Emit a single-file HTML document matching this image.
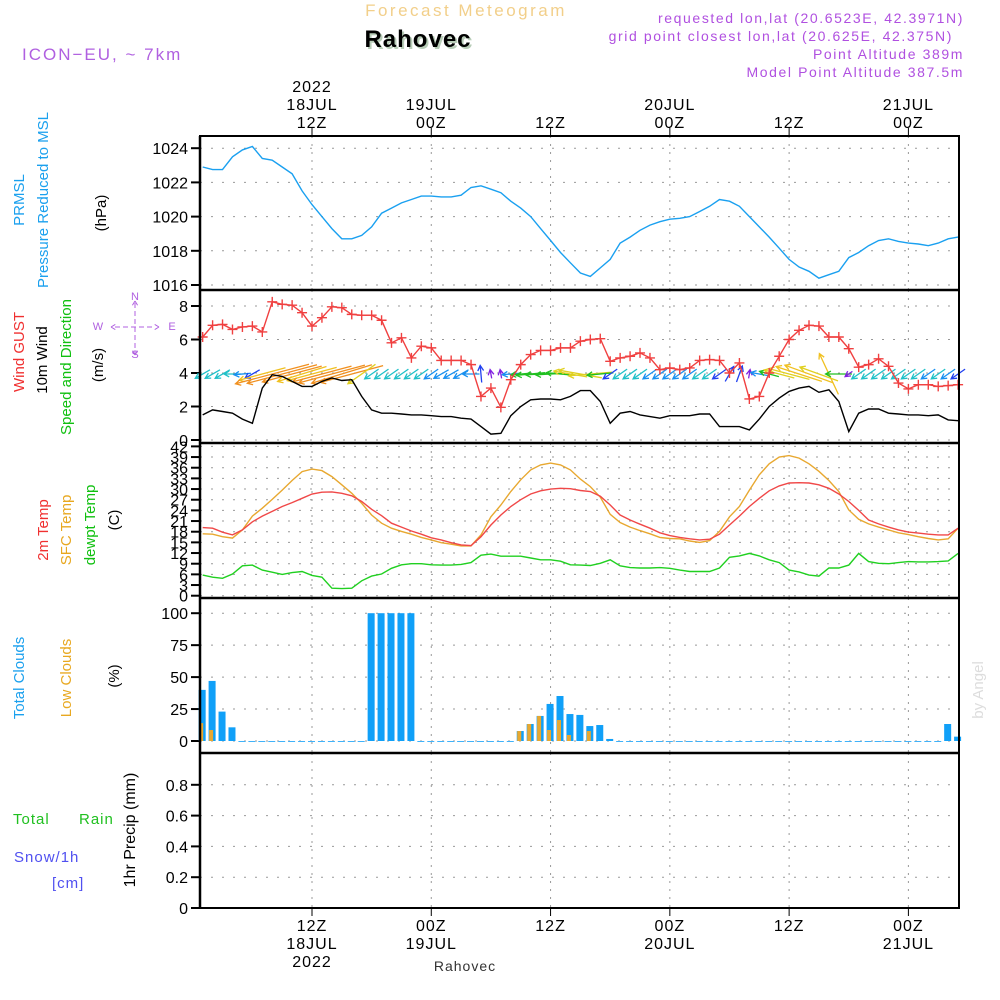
<!DOCTYPE html>
<html><head><meta charset="utf-8"><style>
html,body{margin:0;padding:0;background:#fff;width:1000px;height:1000px;overflow:hidden}
svg{display:block}
text{font-family:"Liberation Sans",sans-serif}
</style></head><body>
<svg id="chart" width="1000" height="1000" viewBox="0 0 1000 1000">
<g id="static">
<text x="466" y="16" text-anchor="middle" font-size="17" fill="#f2cf8a" letter-spacing="2.5">Forecast Meteogram</text>
<text x="420" y="49" text-anchor="middle" font-size="24" font-weight="bold" fill="#b8cdb8" font-family="Liberation Serif,serif" letter-spacing="1">Rahovec</text>
<text x="418" y="47" text-anchor="middle" font-size="24" font-weight="bold" fill="#000" font-family="Liberation Serif,serif" letter-spacing="1">Rahovec</text>
<text x="22" y="60" font-size="17" fill="#b060e0" letter-spacing="2">ICON−EU, ~ 7km</text>
<g font-size="14" fill="#b050e0" text-anchor="end" letter-spacing="1.6">
<text x="964" y="23">requested lon,lat (20.6523E, 42.3971N)</text>
<text x="953" y="41">grid point closest lon,lat (20.625E, 42.375N)</text>
<text x="964" y="59">Point Altitude 389m</text>
<text x="964" y="77">Model Point Altitude 387.5m</text>
</g>
<g font-size="15" text-anchor="middle" transform="rotate(-90)">
<text x="-200" y="24" fill="#1aa0ee">PRMSL</text>
<text x="-200" y="48" fill="#1aa0ee">Pressure Reduced to MSL</text>
<text x="-213" y="106" fill="#000">(hPa)</text>
<text x="-352" y="24" fill="#f03030">Wind GUST</text>
<text x="-360" y="47" fill="#000">10m Wind</text>
<text x="-367" y="71" fill="#10c010">Speed and Direction</text>
<text x="-365" y="103" fill="#000">(m/s)</text>
<text x="-530" y="48" fill="#f03030">2m Temp</text>
<text x="-530" y="71" fill="#e8a820">SFC Temp</text>
<text x="-525" y="95" fill="#10c010">dewpt Temp</text>
<text x="-520" y="119" fill="#000">(C)</text>
<text x="-678" y="24" fill="#1aa0ee">Total Clouds</text>
<text x="-678" y="71" fill="#e8a820">Low Clouds</text>
<text x="-676" y="119" fill="#000">(%)</text>
<text x="-830" y="135" fill="#000" font-size="16">1hr Precip (mm)</text>
<text x="-690" y="983" fill="#ddd" font-family="Liberation Serif,serif">by Angel</text>
</g>
<g font-size="14" fill="#b060e0">
<text x="135" y="300" text-anchor="middle" font-size="11">N</text>
<text x="135" y="358" text-anchor="middle" font-size="11">S</text>
<text x="98" y="330" text-anchor="middle" font-size="11">W</text>
<text x="172" y="330" text-anchor="middle" font-size="11">E</text>
<path d="M135 303V354M115 327H155M111 327l5-3M111 327l5 3M159 327l-5-3M159 327l-5 3M135 301l-3 5M135 301l3 5M135 355l-3-5M135 355l3-5" stroke="#b060e0" fill="none" stroke-dasharray="5,3"/>
</g>
<text x="13" y="824" font-size="15" fill="#20c020" letter-spacing="1">Total</text>
<text x="79" y="824" font-size="15" fill="#20c020" letter-spacing="1">Rain</text>
<text x="14" y="862" font-size="15" fill="#5050f0" letter-spacing="1">Snow/1h</text>
<text x="52" y="888" font-size="15" fill="#5050f0" letter-spacing="1">[cm]</text>
<text x="465" y="971" text-anchor="middle" font-size="14" font-family="Liberation Serif,serif" fill="#333" letter-spacing="1">Rahovec</text>
</g>
<g id="plot"></g>
</svg>
<script>
const hours = [];
for (let h = 1; h <= 77; h++) hours.push(h);
const pressure = [1022.9,1022.75,1022.75,1023.5,1023.9,1024.1,1023.4,1023.3,1022.9,1022.5,1021.5,1020.7,1020.0,1019.3,1018.7,1018.7,1018.9,1019.4,1020.2,1020.5,1020.8,1021.0,1021.2,1021.2,1021.15,1021.15,1021.25,1021.7,1021.8,1021.6,1021.4,1020.9,1020.5,1020.0,1019.3,1018.6,1017.9,1017.3,1016.7,1016.5,1017.0,1017.5,1018.45,1018.8,1019.2,1019.5,1019.7,1019.85,1019.9,1020.0,1020.3,1020.6,1021.0,1020.9,1020.6,1020.0,1019.4,1018.8,1018.15,1017.5,1017.05,1016.8,1016.4,1016.6,1016.8,1017.6,1017.9,1018.3,1018.6,1018.7,1018.55,1018.45,1018.4,1018.3,1018.45,1018.7,1018.8];
const windSpeed = [1.5,1.8,1.7,1.6,1.25,1.0,3.1,3.9,3.8,3.5,3.2,3.2,3.5,3.7,3.55,3.6,2.6,1.8,1.6,1.6,1.55,1.5,1.5,1.45,1.4,1.4,1.3,1.25,0.8,0.35,0.4,1.45,2.0,2.4,2.45,2.45,2.4,2.6,2.95,2.95,2.3,1.0,1.6,1.7,1.5,1.4,1.3,1.45,1.45,1.45,1.55,1.55,0.8,0.8,0.8,0.6,1.25,2.0,2.5,2.9,3.1,3.2,2.85,3.0,2.3,0.5,1.6,1.85,1.85,1.6,1.55,1.5,1.5,1.45,1.5,1.2,1.15];
const windGust = [6.15,6.85,6.9,6.6,6.75,6.8,6.45,8.25,8.1,8.05,7.6,6.8,7.3,7.95,7.9,7.5,7.45,7.45,7.15,5.8,6.1,4.9,5.6,5.5,4.75,4.75,4.75,4.5,2.6,3.1,1.95,3.6,4.5,5.1,5.35,5.35,5.5,5.5,5.9,6.0,6.05,4.7,4.9,5.0,5.2,4.9,4.2,4.3,4.2,4.3,4.75,4.8,4.75,4.0,4.6,2.45,2.6,4.0,5.0,6.0,6.55,6.85,6.8,6.15,6.15,5.45,4.35,4.5,4.85,4.4,3.4,3.05,3.3,3.3,3.2,3.25,3.3];
const windDir = [210,210,210,180,185,210,195,195,195,195,197,195,195,195,197,195,215,215,215,215,215,215,215,215,210,210,210,180,95,100,100,185,185,185,183,183,175,170,170,185,185,215,215,215,215,215,215,215,215,215,215,215,215,60,70,80,170,165,165,165,162,160,160,115,180,215,215,215,215,215,215,215,215,215,215,215,215];
const temp2m = [19.15,19.0,17.85,17.1,18.5,20.8,22.4,23.7,25.1,26.2,27.4,28.6,29.1,29.2,28.8,28.1,26.5,24.3,22.5,20.4,19.3,18.2,17.3,16.3,15.7,14.9,14.3,14.1,16.6,19.9,22.7,25.1,27.0,28.6,29.5,30.0,30.2,30.1,29.6,29.3,28.0,25.5,22.7,21.3,20.1,19.0,17.7,16.9,16.4,16.0,15.7,15.9,17.3,19.9,22.4,25.1,27.4,29.5,30.9,31.7,31.8,31.7,31.2,30.2,28.6,26.5,24.0,21.3,20.2,19.3,18.5,17.9,17.6,17.3,17.1,17.1,19.0];
const sfcTemp = [17.4,17.3,16.6,16.2,18.5,22.4,24.6,27.1,29.7,32.4,34.9,35.6,35.2,33.5,31.2,28.8,26.0,22.7,20.4,19.0,18.1,17.3,16.4,15.7,14.9,14.5,14.0,14.0,17.1,22.2,25.5,29.3,32.6,35.4,36.8,37.3,36.8,35.4,32.8,30.7,27.7,22.9,20.6,19.3,18.3,17.4,16.4,16.1,16.0,15.4,15.0,15.5,18.1,22.2,25.1,29.7,34.0,37.1,39.0,39.4,38.7,37.1,35.0,32.4,29.3,24.1,21.5,20.2,19.3,18.5,17.7,17.2,16.6,16.1,15.7,16.0,19.0];
const dewpt = [5.8,5.2,4.9,6.1,8.4,8.6,7.2,6.6,6.0,6.5,6.8,5.7,5.2,2.1,2.0,2.1,4.2,5.5,6.1,7.7,8.7,9.0,9.0,8.7,8.6,8.6,8.8,9.3,11.4,11.7,11.1,11.1,11.1,10.6,10.1,10.1,9.7,8.7,8.6,8.5,9.1,10.1,8.4,7.9,7.8,7.8,7.9,7.7,7.2,6.8,6.8,6.8,7.8,10.8,11.2,11.9,11.2,10.1,9.3,7.2,6.7,5.8,5.5,7.8,7.8,8.6,11.9,9.6,9.1,9.0,9.3,9.6,9.5,9.5,9.6,9.8,11.9];
const totalClouds = [40,47,23,10.7,0,0,0,0,0,0,0,0,0,0,0,0,0,100,100,100,100,100,0,0,0,0,0,0,0,0,0,0,7.8,13.3,19.6,29,35.2,21.1,20.4,11.7,12.5,1.6,0,0,0,0,0,0,0,0,0,0,0,0,0,0,0,0,0,0,0,0,0,0,0,0,0,0,0,0,0,0,0,0,0,13.3,3.4];
const lowClouds = [14,8.6,0,0,0,0,0,0,0,0,0,0,0,0,0,0,0,0,0,0,0,0,0,0,0,0,0,0,0,0,0,0,7.8,13.3,19.6,8.6,16.4,4.7,0,7.8,0,0,0,0,0,0,0,0,0,0,0,0,0,0,0,0,0,0,0,0,0,0,0,0,0,0,0,0,0,0,0,0,0,0,0,0,0];
const precip = hours.map(() => 0);
const pressureTicks = [1016,1018,1020,1022,1024];
const windTicks = [0,2,4,6,8];
const tempTicks = [0,3,6,9,12,15,18,21,24,27,30,33,36,39,42];
const cloudTicks = [0,25,50,75,100];
const precipTicks = [0,0.2,0.4,0.6,0.8];
const majorHours = [12,24,36,48,60,72];
const topDate = ["18JUL","19JUL","","20JUL","","21JUL"];
const topTime = ["12Z","00Z","12Z","00Z","12Z","00Z"];

const NS = "http://www.w3.org/2000/svg";
const plot = document.getElementById("plot");
const X0 = 200, X1 = 959;
const xs = h => 312 + (h - 12) * 9.94;
const panels = {
  p: {top:136, bot:290, y: v => 285 - (v - 1016) * 17.1},
  w: {top:290, bot:443, y: v => 440 - v * 16.75},
  t: {top:443, bot:598, y: v => 595.7 - v * 3.555},
  c: {top:598, bot:753, y: v => 741 - v * 1.278},
  r: {top:753, bot:908, y: v => 908 - v * 154}
};
function el(tag, attrs, parent) {
  const e = document.createElementNS(NS, tag);
  for (const k in attrs) e.setAttribute(k, attrs[k]);
  (parent || plot).appendChild(e);
  return e;
}
const grid = el("g", {});


function hgrid(panel, ticks) {
  const P = panels[panel];
  ticks.forEach(v => {
    const y = P.y(v);
    el("line", {x1:X0, x2:X1, y1:y, y2:y, stroke:"#999", "stroke-dasharray":"2,9"}, grid);
    el("line", {x1:X0-9, x2:X0, y1:y, y2:y, stroke:"#000", "stroke-width":2}, grid);
    const t = el("text", {x:X0-12, y:y+6, "text-anchor":"end", "font-size":16, fill:"#000"}, grid);
    
    
    t.textContent = v;
  });
  majorHours.forEach(h => {
    el("line", {x1:xs(h), x2:xs(h), y1:P.top, y2:P.bot, stroke:"#999", "stroke-dasharray":"2,6"}, grid);
  });
}
hgrid("p", pressureTicks); hgrid("w", windTicks);
hgrid("t", tempTicks); hgrid("c", cloudTicks); hgrid("r", precipTicks);
majorHours.forEach((h, i) => {
  const x = xs(h);
  el("line", {x1:x, x2:x, y1:128, y2:136, stroke:"#000"}, grid);
  el("line", {x1:x, x2:x, y1:908, y2:916, stroke:"#000"}, grid);
  const a = el("text", {x:x, y:128, "text-anchor":"middle", "font-size":16, "letter-spacing":1}, grid);
  
  
  a.textContent = topTime[i];
  const c = el("text", {x:x, y:931, "text-anchor":"middle", "font-size":16, "letter-spacing":1}, grid);
  
  
  c.textContent = topTime[i];
  if (topDate[i]) {
    const b = el("text", {x:x, y:110, "text-anchor":"middle", "font-size":16, "letter-spacing":1}, grid);
    
    
    b.textContent = topDate[i];
    const d = el("text", {x:x, y:949, "text-anchor":"middle", "font-size":16, "letter-spacing":1}, grid);
    
    
    d.textContent = topDate[i];
  }
});
const y1 = el("text", {x:xs(12), y:92, "text-anchor":"middle", "font-size":16, "letter-spacing":1}, grid);


y1.textContent = "2022";
const y2 = el("text", {x:xs(12), y:967, "text-anchor":"middle", "font-size":16, "letter-spacing":1}, grid);


y2.textContent = "2022";

function line(panel, arr, color, name) {
  const P = panels[panel];
  const d = arr.map((v, i) => (i ? "L" : "M") + xs(hours[i]).toFixed(1) + " " + P.y(v).toFixed(1)).join("");
  const p = el("path", {d:d, fill:"none", stroke:color, "stroke-width":1.4});
  
  
  return p;
}
line("p", pressure, "#1aa0f0", "pressure-line");
function windColor(s) {
  if (s < 0.7) return "#8020e0";
  if (s < 1.2) return "#2040f0";
  if (s < 1.5) return "#1890f0";
  if (s < 2.0) return "#20c0c8";
  if (s < 2.5) return "#20c020";
  if (s < 3.0) return "#e0d020";
  if (s < 3.4) return "#f0c020";
  return "#f09020";
}
const arrows = el("g", {});


hours.forEach((h, i) => {
  const s = windSpeed[i];
  const len = Math.max(s < 0.7 ? 9 : 17, 5 * s * s);
  const a = windDir[i] * Math.PI / 180;
  const dx = Math.cos(a) * len, dy = -Math.sin(a) * len;
  const cx = xs(h), cy = 374;
  const x1 = cx - dx / 2, y1 = cy - dy / 2, x2 = cx + dx / 2, y2 = cy + dy / 2;
  const hl = 6, ang = Math.atan2(y2 - y1, x2 - x1);
  const col = windColor(s);
  const d = `M${x1.toFixed(1)} ${y1.toFixed(1)}L${x2.toFixed(1)} ${y2.toFixed(1)}M${(x2 - hl*Math.cos(ang-0.5)).toFixed(1)} ${(y2 - hl*Math.sin(ang-0.5)).toFixed(1)}L${x2.toFixed(1)} ${y2.toFixed(1)}L${(x2 - hl*Math.cos(ang+0.5)).toFixed(1)} ${(y2 - hl*Math.sin(ang+0.5)).toFixed(1)}`;
  const p = el("path", {d:d, stroke:col, fill:"none", "stroke-width":1.3}, arrows);
  
  
});
line("w", windSpeed, "#000", "wind-speed-line");
line("w", windGust, "#f04040", "wind-gust-line");
const gm = el("g", {});


hours.forEach((h, i) => {
  const x = xs(h), y = panels.w.y(windGust[i]);
  const p = el("path", {d:`M${x-5} ${y}H${x+5}M${x} ${y-5}V${y+5}`, stroke:"#f04040", "stroke-width":1.4}, gm);
  
  
});
line("t", dewpt, "#20d020", "dewpoint-line");
line("t", sfcTemp, "#e8a830", "sfc-temp-line");
line("t", temp2m, "#f04848", "temp-2m-line");
const cb = el("g", {});


const P = panels.c;
hours.forEach((h, i) => {
  const x = xs(h);
  const t = totalClouds[i], l = lowClouds[i];
  const r = el("rect", {x:x-4, y:P.y(t), width:7, height:Math.max(0.8, P.y(0) - P.y(t)), fill:"#10a0f8"}, cb);
  
  
  if (l > 0) {
    const r2 = el("rect", {x:x-3.5, y:P.y(l), width:4, height:P.y(0) - P.y(l), fill:"#e8a830"}, cb);
    
    
  }
});
const pr = line("r", precip, "#333", "precip-line");
pr.setAttribute("stroke-dasharray", "4,3");
const borders = el("g", {});


el("rect", {x:X0, y:136, width:X1 - X0, height:908 - 136, fill:"none", stroke:"#000", "stroke-width":2}, borders);
[290, 443, 598, 753].forEach(y => el("line", {x1:X0, x2:X1, y1:y, y2:y, stroke:"#000", "stroke-width":2.5}, borders));
el("line", {x1:X0, x2:X0, y1:136, y2:908, stroke:"#000", "stroke-width":2.5}, borders);
</script>
</body></html>
